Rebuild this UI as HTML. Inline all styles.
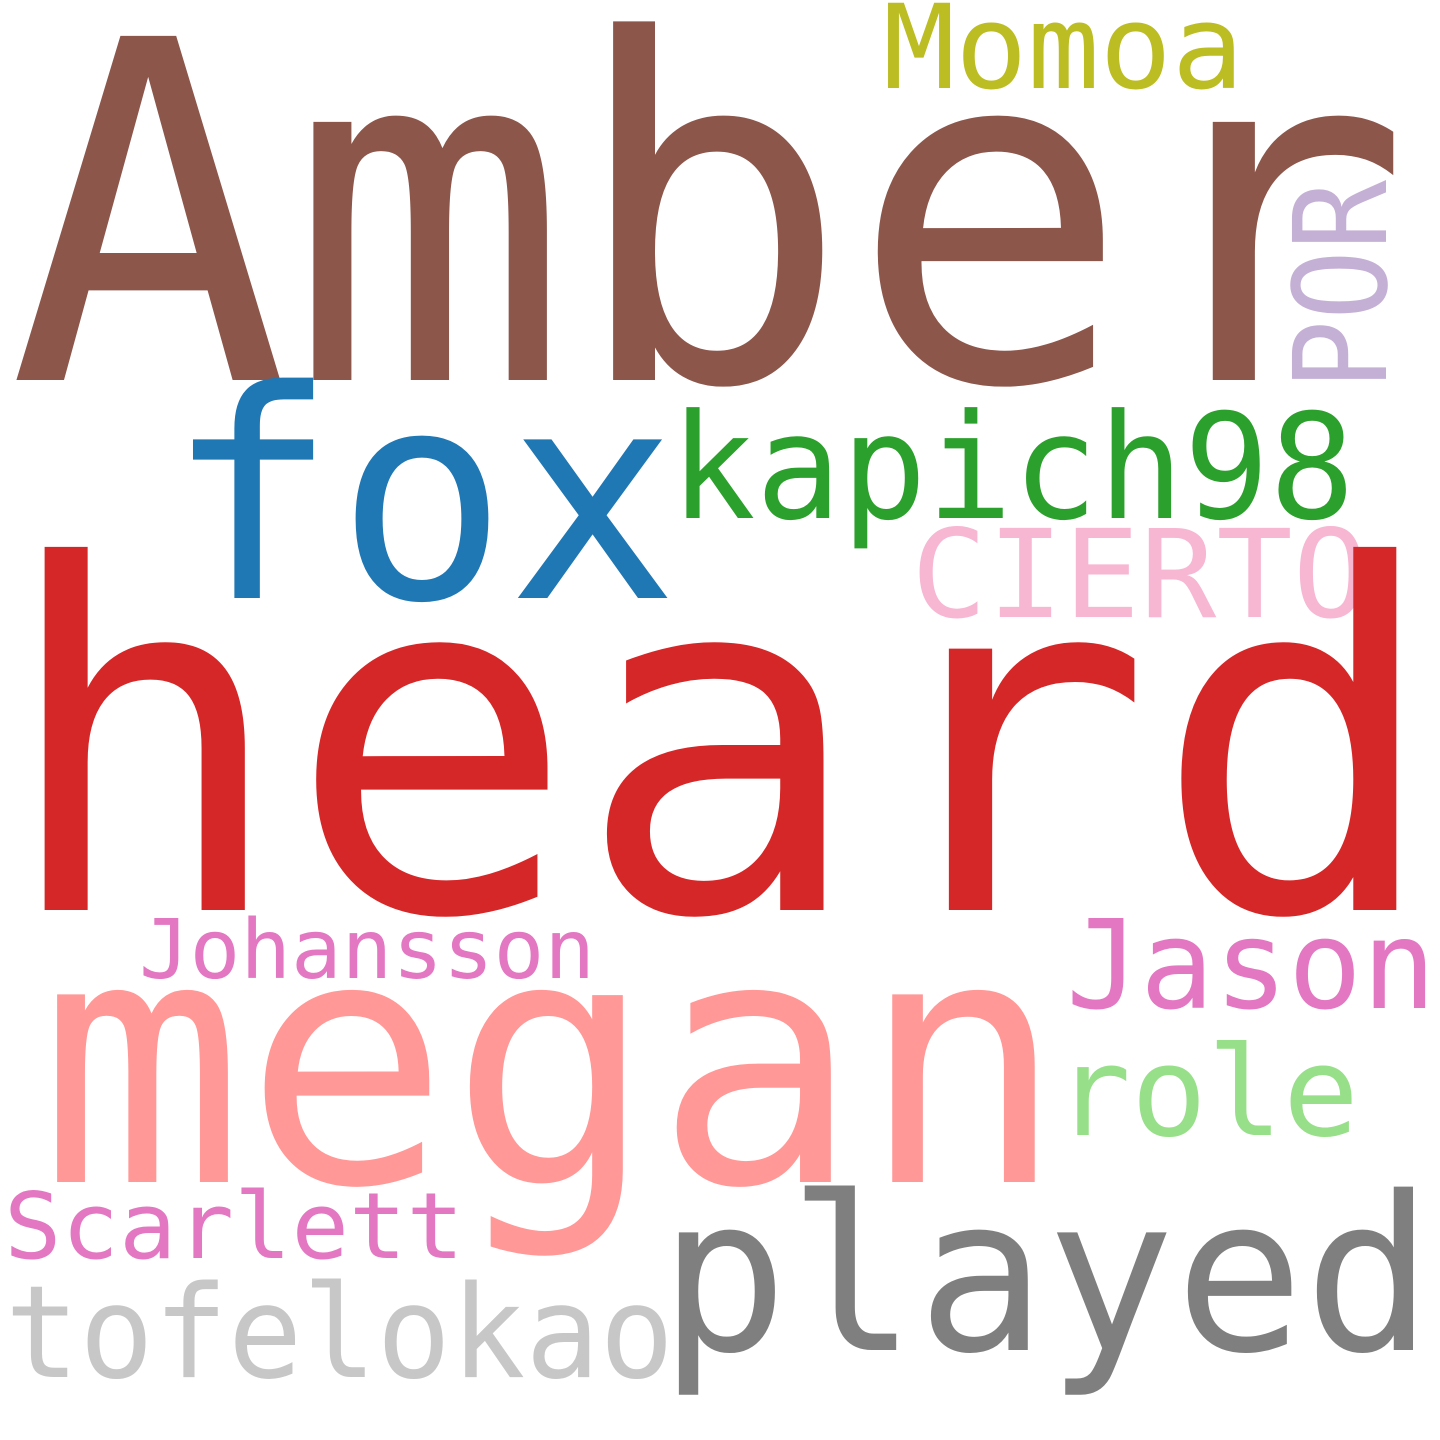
<!DOCTYPE html>
<html>
<head>
<meta charset="utf-8">
<style>
  html,body{margin:0;padding:0;background:#fff;}
  svg{display:block;}
  text{font-family:"DejaVu Sans Mono","Liberation Mono",monospace;}
</style>
</head>
<body>
<svg width="1440" height="1440" viewBox="0 0 1440 1440">
  <rect width="1440" height="1440" fill="#ffffff"/>
  <text x="8" y="380" font-size="472" fill="#8c564b" textLength="1403" lengthAdjust="spacingAndGlyphs">Amber</text>
  <text x="883" y="88" font-size="117" fill="#bcbd22" textLength="361" lengthAdjust="spacingAndGlyphs">Momoa</text>
  <text transform="translate(1386,390) rotate(-90)" x="0" y="0" font-size="129" fill="#c5b0d5" textLength="210" lengthAdjust="spacingAndGlyphs">POR</text>
  <text x="166" y="598" font-size="290" fill="#1f77b4" textLength="512" lengthAdjust="spacingAndGlyphs">fox</text>
  <text x="670" y="518" font-size="146" fill="#2ca02c" textLength="685" lengthAdjust="spacingAndGlyphs">kapich98</text>
  <text x="911" y="617" font-size="122" fill="#f7b6d2" textLength="458" lengthAdjust="spacingAndGlyphs">CIERTO</text>
  <text x="-1" y="910" font-size="478" fill="#d62728" textLength="1442" lengthAdjust="spacingAndGlyphs">heard</text>
  <text x="139" y="978" font-size="82" fill="#e377c2" textLength="456" lengthAdjust="spacingAndGlyphs">Johansson</text>
  <text x="1066" y="1008" font-size="123" fill="#e377c2" textLength="370" lengthAdjust="spacingAndGlyphs">Jason</text>
  <text x="39" y="1182" font-size="343" fill="#ff9896" textLength="1026" lengthAdjust="spacingAndGlyphs">megan</text>
  <text x="1055" y="1135" font-size="124" fill="#98df8a" textLength="304" lengthAdjust="spacingAndGlyphs">role</text>
  <text x="4" y="1258" font-size="92" fill="#e377c2" textLength="460" lengthAdjust="spacingAndGlyphs">Scarlett</text>
  <text x="659" y="1350" font-size="215" fill="#7f7f7f" textLength="774" lengthAdjust="spacingAndGlyphs">played</text>
  <text x="5" y="1377" font-size="128" fill="#c7c7c7" textLength="669" lengthAdjust="spacingAndGlyphs">tofelokao</text>
</svg>
</body>
</html>
